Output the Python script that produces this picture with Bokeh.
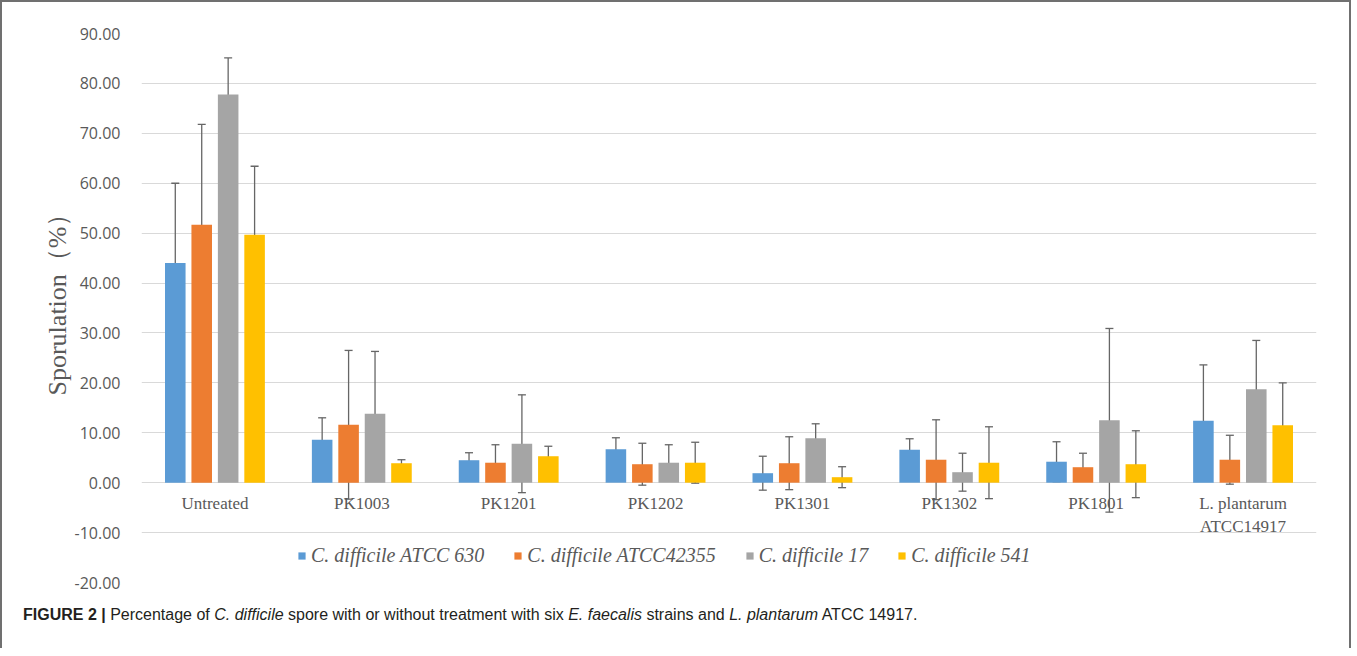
from bokeh.plotting import figure
from bokeh.models import (FactorRange, Range1d, ColumnDataSource, Whisker, TeeHead,
                          Legend, LegendItem, FixedTicker, NumeralTickFormatter, Div, Title)
from bokeh.transform import dodge
from bokeh.layouts import column
from bokeh.core.properties import value
from bokeh.embed import file_html
from bokeh.resources import INLINE

categories = ["Untreated", "PK1003", "PK1201", "PK1202", "PK1301", "PK1302", "PK1801",
              "L. plantarum\nATCC14917"]

series_names = ["C. difficile ATCC 630", "C. difficile ATCC42355", "C. difficile 17", "C. difficile 541"]
series_colors = ["#5b9bd5", "#ed7d31", "#a5a5a5", "#ffc000"]

atcc630 = [44.0, 8.6, 4.5, 6.7, 1.9, 6.6, 4.2, 12.4]
atcc630_sd = [16.0, 4.4, 1.5, 2.3, 3.4, 2.2, 4.0, 11.2]
atcc42355 = [51.7, 11.6, 4.0, 3.7, 3.9, 4.6, 3.1, 4.6]
atcc42355_sd = [20.1, 14.9, 3.6, 4.2, 5.3, 8.0, 2.8, 4.9]
cd17 = [77.8, 13.8, 7.8, 4.0, 8.9, 2.1, 12.5, 18.7]
cd17_sd = [7.3, 12.5, 9.8, 3.6, 2.9, 3.8, 18.4, 9.8]
cd541 = [49.7, 3.9, 5.3, 4.0, 1.1, 4.0, 3.7, 11.5]
cd541_sd = [13.7, 0.7, 2.0, 4.1, 2.1, 7.2, 6.7, 8.5]

y_ticks = [-20, -10, 0, 10, 20, 30, 40, 50, 60, 70, 80, 90]

values_list = [atcc630, atcc42355, cd17, cd541]
sd_list = [atcc630_sd, atcc42355_sd, cd17_sd, cd541_sd]
offsets = [-0.27, -0.09, 0.09, 0.27]

p = figure(x_range=FactorRange(factors=categories, range_padding=0),
           y_range=Range1d(-20, 90),
           width=1337, height=590,
           output_backend="svg", toolbar_location=None,
           min_border_left=139, min_border_right=23, min_border_top=31, min_border_bottom=10)
p.outline_line_color = None
p.xgrid.grid_line_color = None
p.ygrid.grid_line_color = "#d9d9d9"
p.ygrid.grid_line_width = 1
p.xaxis.visible = False

yax = p.yaxis[0]
yax.ticker = FixedTicker(ticks=y_ticks)
yax.formatter = NumeralTickFormatter(format="0.00")
yax.axis_line_color = None
yax.major_tick_line_color = None
yax.minor_tick_line_color = None
yax.major_label_text_font = "Open Sans"
yax.major_label_text_font_size = "16px"
yax.major_label_text_color = "#595959"
yax.major_label_standoff = 15

# y-axis title as a side title (left), positioned from the frame bottom
ytitle = Title(text="Sporulation（%）", align="left", offset=187,
               text_font="Liberation Serif", text_font_size="26px",
               text_font_style="normal", text_color="#595959", standoff=0)
p.add_layout(ytitle, "left")

items = []
for name, color, vals, sds, off in zip(series_names, series_colors, values_list, sd_list, offsets):
    src = ColumnDataSource(dict(
        cat=categories, top=vals,
        upper=[v + s for v, s in zip(vals, sds)],
        lower=[v - s for v, s in zip(vals, sds)]))
    r = p.vbar(x=dodge("cat", off, range=p.x_range), top="top", bottom=0, width=0.14,
               source=src, fill_color=color, line_color=None)
    items.append(LegendItem(label=name, renderers=[r]))
    w = Whisker(base=dodge("cat", off, range=p.x_range), upper="upper", lower="lower", source=src,
                line_color="#666666", line_width=1.3,
                upper_head=TeeHead(size=8, line_color="#666666", line_width=1.3),
                lower_head=TeeHead(size=8, line_color="#666666", line_width=1.3))
    p.add_layout(w)

label_y = [-2.2] * len(categories)
p.text(x=categories, y=label_y, text=categories, text_align="center", text_baseline="top",
       text_font=value("Liberation Serif"), text_font_size="17px", text_color="#595959",
       text_line_height=1.22)

legend = Legend(items=items, orientation="horizontal", location=(156, 15),
                padding=0, spacing=29, label_standoff=5,
                glyph_width=9, glyph_height=9,
                label_text_font="Liberation Serif", label_text_font_style="italic",
                label_text_font_size="20px", label_text_color="#595959",
                border_line_color=None, background_fill_alpha=0)
p.add_layout(legend)

caption = Div(text='<b>FIGURE 2 |</b> Percentage of <i>C. difficile</i> spore with or without '
                   'treatment with six <i>E. faecalis</i> strains and <i>L. plantarum</i> ATCC 14917.',
              width=1337, height=46,
              styles={"font-family": "Liberation Sans", "font-size": "16px", "color": "#231f20",
                      "padding-left": "16px", "padding-top": "7px", "box-sizing": "border-box"})

layout = column(p, caption, spacing=0,
                styles={"border-left": "2px solid #707070", "border-top": "2px solid #707070",
                        "border-right": "2px solid #707070"})

open("out.html", "w").write(file_html(layout, INLINE))
